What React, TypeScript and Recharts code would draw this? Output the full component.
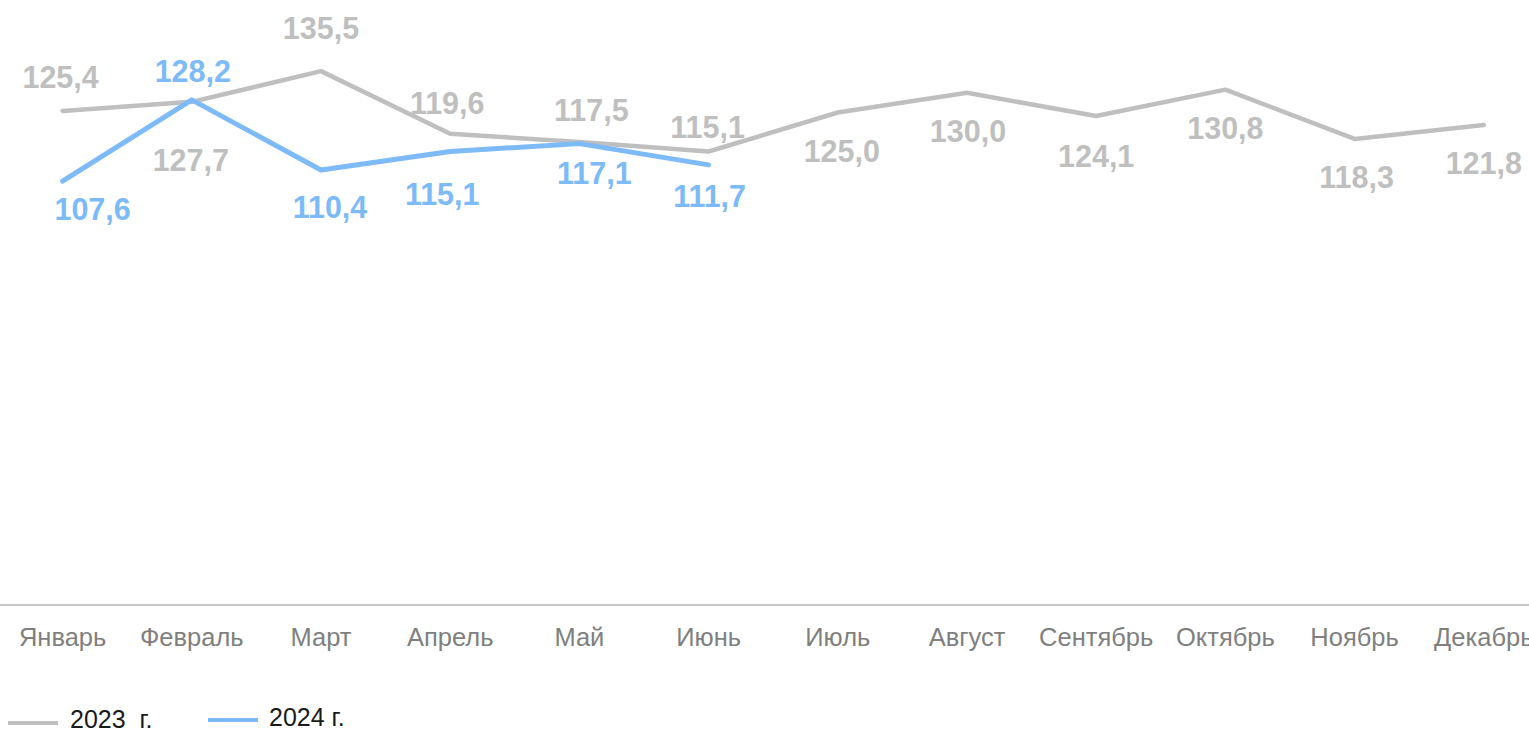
import React from "react";
import { LineChart, Line, XAxis, YAxis, LabelList } from "recharts";

const months = ["Январь","Февраль","Март","Апрель","Май","Июнь","Июль","Август","Сентябрь","Октябрь","Ноябрь","Декабрь"];
const values2023 = [125.4,127.7,135.5,119.6,117.5,115.1,125.0,130.0,124.1,130.8,118.3,121.8];
const values2024 = [107.6,128.2,110.4,115.1,117.1,111.7];
const seriesNames = ["2023 г.", "2024 г."];

// label placement (dx, dy from the point to label centre)
const offsets2023: [number, number][] = [[-2,-34],[-1,58],[0,-43],[-3,-31],[12,-32],[-1,-25],[4,39],[1,38],[0,40],[0,38],[2,38],[0,38]];
const offsets2024: [number, number][] = [[30,28],[1,-29],[9,37],[-8,42],[15,29],[1,31]];

const GRAY = "#BFBFBF";
const BLUE = "#7CBAF8";
const FONT = "'Liberation Sans', Arial, sans-serif";

const data = months.map((m, i) => ({
  month: m,
  y2023: values2023[i],
  y2024: i < values2024.length ? values2024[i] : null,
}));

const fmt = (v: number) => v.toFixed(1).replace(".", ",");

const makeLabel = (offs: [number, number][], color: string) => (props: any) => {
  const { x, y, value, index } = props;
  if (value == null) return null;
  const [dx, dy] = offs[index] || [0, -30];
  return (
    <text x={x + dx} y={y + dy + 11} textAnchor="middle" fill={color}
      style={{ fontFamily: FONT, fontSize: 30.5, fontWeight: 700 }}>
      {fmt(value)}
    </text>
  );
};

const Tick = (props: any) => {
  const { x, y, payload } = props;
  return (
    <text x={x} y={y + 41} textAnchor="middle" fill="#7F7F7F"
      style={{ fontFamily: FONT, fontSize: 25.5 }}>
      {payload.value}
    </text>
  );
};

export default function App() {
  return (
    <div style={{ position: "absolute", left: 0, top: 0, width: 1529, height: 733, overflow: "hidden", background: "#fff" }}>
      <div style={{ position: "absolute", left: -1.6, top: 0 }}>
        <LineChart width={1550.4} height={733} data={data}
          margin={{ top: 53.4, right: 0, left: 0, bottom: 0 }}>
          <XAxis dataKey="month" interval={0} tickLine={false} tickSize={0} tickMargin={0}
            padding={{ left: 64.6, right: 64.6 }}
            axisLine={{ stroke: "#C8C8C8", strokeWidth: 2 }} tick={<Tick />} height={128} />
          <YAxis hide domain={[0, 140]} width={0} />
          <Line dataKey="y2023" name={seriesNames[0]} stroke={GRAY} strokeWidth={4.5} dot={false}
            isAnimationActive={false} strokeLinejoin="round" strokeLinecap="round">
            <LabelList dataKey="y2023" content={makeLabel(offsets2023, GRAY)} />
          </Line>
          <Line dataKey="y2024" name={seriesNames[1]} stroke={BLUE} strokeWidth={5} dot={false}
            isAnimationActive={false} strokeLinejoin="round" strokeLinecap="round">
            <LabelList dataKey="y2024" content={makeLabel(offsets2024, BLUE)} />
          </Line>
        </LineChart>
      </div>
      <div style={{ position: "absolute", left: 8, top: 721, width: 50, height: 4, background: GRAY }} />
      <div style={{ position: "absolute", left: 70, top: 706, fontFamily: FONT, fontSize: 25, lineHeight: "26px", color: "#1A1A1A", whiteSpace: "pre" }}>
        {"2023  г."}
      </div>
      <div style={{ position: "absolute", left: 208, top: 718, width: 50, height: 4, background: BLUE }} />
      <div style={{ position: "absolute", left: 269, top: 704, fontFamily: FONT, fontSize: 25, lineHeight: "26px", color: "#1A1A1A", whiteSpace: "pre" }}>
        {seriesNames[1]}
      </div>
    </div>
  );
}
